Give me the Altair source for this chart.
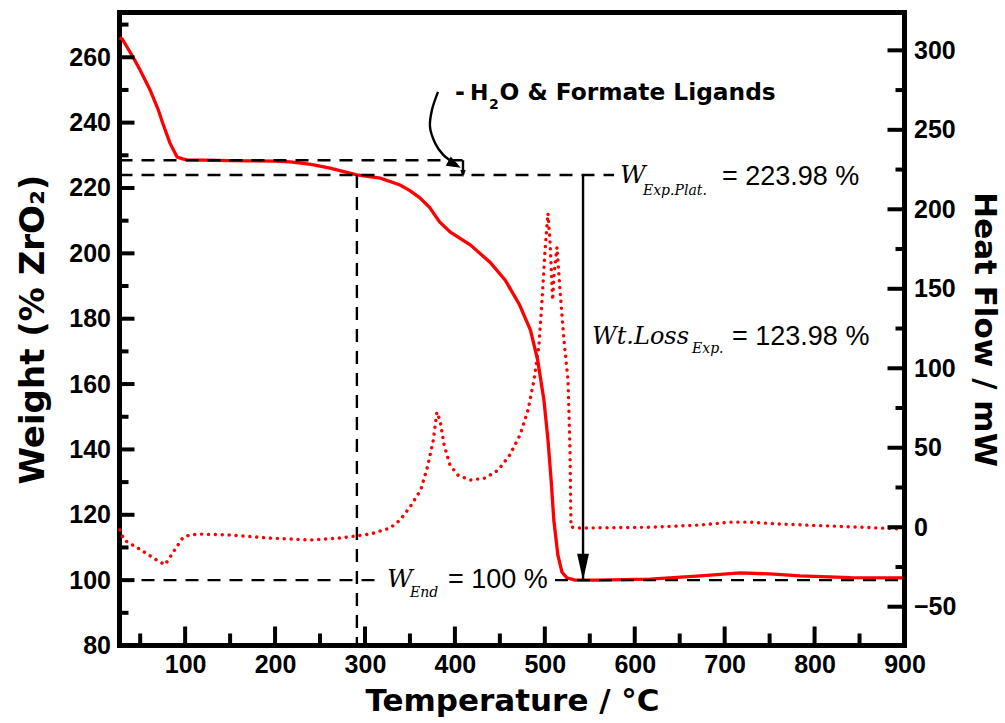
import altair as alt
import pandas as pd

# ---- TGA weight curve (left axis, % ZrO2) ----
temp_w = [27, 30, 42, 50, 61, 70, 75, 83, 91, 97,
          102, 120, 150, 172, 200, 217, 240, 261, 291, 317,
          339, 350, 361, 372, 383, 395, 417, 439, 456, 472,
          484, 492, 499, 503.5, 507, 510, 514.5, 519, 524.5, 533.5,
          560, 617, 673, 717, 750, 784, 840, 898]
weight = [266, 265.6, 260.1, 256, 250, 244, 239.9, 233.8, 229.5, 228.9,
          228.6, 228.5, 228.4, 228.3, 228.2, 228, 227.2, 226.1, 224, 223,
          220.9, 219.2, 217, 214, 209.6, 206.5, 202.6, 197.3, 191.8, 184.2,
          176.5, 167.4, 155.1, 142.9, 130.7, 118.4, 107.7, 102.5, 100.7, 100,
          100, 100.3, 101.3, 102.2, 101.9, 101.3, 100.8, 100.7]

# ---- DSC heat flow curve (right axis, mW) ----
temp_hf = [27.5, 32, 50, 66.5, 77.6, 83, 91, 97.6, 105, 116.5,
           150, 194, 239, 272, 306, 328, 339, 350, 362, 370,
           376, 380, 383.5, 388, 394.6, 403.4, 416.8, 433.5, 448, 461,
           472.4, 481.3, 488, 493.5, 496.9, 500.2, 503.5, 505.7, 508.7, 510.2,
           513.5, 516.9, 521.3, 525.8, 528, 529.1, 539, 617, 672.6, 706,
           728, 761.6, 817, 873, 898]
heat_flow = [-1.7, -8, -14, -20, -23.6, -19, -12, -6.5, -4.9, -4.3,
             -4.9, -6.8, -8, -6.8, -4.3, -0.5, 4.5, 12.7, 23.4, 39,
             54.8, 72.4, 67, 51.7, 39, 32.8, 29.6, 30.9, 35.9, 45.4,
             58, 73.7, 92.6, 114.6, 142.9, 174, 197.5, 180.6, 142.9, 158.6,
             176.2, 149, 117.7, 92.6, 48.6, 0.1, -0.5, 0, 1.4, 3.2,
             3.2, 2, 0.8, -0.5, -1.1]

# ---- annotation values ----
W_WATER = 228.5       # plateau after water / formate loss
W_PLAT = 223.98       # experimental plateau
W_END = 100           # final ZrO2 residue
T_PLAT = 291          # temperature where the plateau is read
T_LOSS = 542.5        # position of the weight-loss arrow
T_WATER_ARROW = 409   # end of the water-loss guide
WT_LOSS = round(W_PLAT - W_END, 2)

# curved pointer from the ligand label to the guide lines
curve_x = [381.2, 374.5, 372.3, 377.9, 386.8, 396.8, 402.5]
curve_y = [249.4, 243.9, 238.7, 233.8, 230.2, 228.0, 227.1]

# axis tick values
x_major = [100, 200, 300, 400, 500, 600, 700, 800, 900]
x_minor = [50, 150, 250, 350, 450, 550, 650, 750, 850]
yl_major = [80, 100, 120, 140, 160, 180, 200, 220, 240, 260]
yl_minor = [90, 110, 130, 150, 170, 190, 210, 230, 250, 270]
yr_major = [-50, 0, 50, 100, 150, 200, 250, 300]
yr_minor = [-25, 25, 75, 125, 175, 225, 275]

X_DOM = [27, 900]
YL_DOM = [80, 273.7]
YR_DOM = [-74.4, 323.8]

W, H = 785, 633
RED = "#ff0000"
SANS = "Liberation Sans"
SANS_W = "DejaVu Sans"
SERIF_I = "DejaVu Serif"

xs = alt.Scale(domain=X_DOM, nice=False, zero=False)
yl = alt.Scale(domain=YL_DOM, nice=False, zero=False)
yr = alt.Scale(domain=YR_DOM, nice=False, zero=False)

label_style = dict(labelFont=SANS, labelFontWeight="bold", labelFontSize=25,
                   labelColor="black", ticks=False, tickSize=0, domain=False,
                   grid=False, labelFlush=False, labelOverlap=False,
                   titleFont=SANS_W, titleFontWeight="bold", titleColor="black")

# one axis definition per scale, shared by every layer that uses it
AX_X = alt.Axis(values=x_major, labelPadding=7, title="Temperature / °C",
                titleFontSize=31, titlePadding=9, **label_style)
AX_YL = alt.Axis(values=yl_major, labelPadding=9, title="Weight (% ZrO₂)",
                 titleFontSize=34, titlePadding=18, **label_style)
AX_YR = alt.Axis(orient="right", values=yr_major, labelPadding=9,
                 title="Heat Flow / mW", titleFontSize=31, titlePadding=12,
                 **label_style)


def xq(field):
    return alt.X(field, type="quantitative", scale=xs, axis=AX_X)


def ylq(field):
    return alt.Y(field, type="quantitative", scale=yl, axis=AX_YL)


def yrq(field):
    return alt.Y(field, type="quantitative", scale=yr, axis=AX_YR)


# ---------------- left-axis group ----------------
weight_line = alt.Chart(pd.DataFrame({"T": temp_w, "W": weight})).mark_line(
    color=RED, strokeWidth=3.3
).encode(x=xq("T"), y=ylq("W"))

guides = pd.DataFrame({
    "x1": [X_DOM[0], X_DOM[0], T_PLAT, X_DOM[0], 511.3],
    "x2": [T_WATER_ARROW, 577, T_PLAT, 316.7, X_DOM[1]],
    "y1": [W_WATER, W_PLAT, W_PLAT, W_END, W_END],
    "y2": [W_WATER, W_PLAT, YL_DOM[0], W_END, W_END],
})
dashed = alt.Chart(guides).mark_rule(
    color="black", strokeWidth=2.4, strokeDash=[13, 9]
).encode(x=xq("x1"), x2="x2:Q", y=ylq("y1"), y2="y2:Q")

arrows = pd.DataFrame({
    "x": [T_LOSS, T_WATER_ARROW],
    "y1": [W_PLAT, W_WATER],
    "y2": [W_END, W_PLAT],
})
arrow_shafts = alt.Chart(arrows).mark_rule(color="black", strokeWidth=2.4).encode(
    x=xq("x"), y=ylq("y1"), y2="y2:Q"
)
# arrowheads drawn with the tip at the symbol origin
big_head = alt.Chart(pd.DataFrame({"x": [T_LOSS], "y": [W_END]})).mark_point(
    shape="M-0.45,-2L0.45,-2L0,0Z", size=700, filled=True, color="black", opacity=1
).encode(x=xq("x"), y=ylq("y"))
small_head = alt.Chart(pd.DataFrame({"x": [T_WATER_ARROW], "y": [W_PLAT]})).mark_point(
    shape="M-0.6,-1.6L0,0L0.6,-1.6", size=40, filled=False, color="black",
    strokeWidth=1.6, opacity=1
).encode(x=xq("x"), y=ylq("y"))

curve = alt.Chart(pd.DataFrame({"x": curve_x, "y": curve_y,
                                "o": list(range(len(curve_x)))})).mark_line(
    color="black", strokeWidth=2.4, interpolate="cardinal"
).encode(x=xq("x"), y=ylq("y"), order="o:Q")
curve_head = alt.Chart(pd.DataFrame({"x": [406.5], "y": [226.2]})).mark_point(
    shape="M0,0L-2,-0.75L-2,0.75Z", size=200, filled=True, color="black", opacity=1,
    angle=28
).encode(x=xq("x"), y=ylq("y"))


def text(x, y, s, dx=0, dy=0, font=SANS, size=27, weight="normal",
         style="normal", baseline="middle"):
    return alt.Chart(pd.DataFrame({"x": [x], "y": [y], "t": [s]})).mark_text(
        align="left", baseline=baseline, dx=dx, dy=dy, font=font, fontSize=size,
        fontWeight=weight, fontStyle=style, color="black"
    ).encode(x=xq("x"), y=ylq("y"), text="t:N")


texts = [
    # - H2O & Formate Ligands
    text(400.1, 249.1, "-", font=SANS_W, size=24, weight="bold"),
    text(400.1, 249.1, "H", dx=15, font=SANS_W, size=22, weight="bold"),
    text(400.1, 249.1, "2", dx=34, dy=16, font=SANS_W, size=14, weight="bold",
         baseline="alphabetic"),
    text(400.1, 249.1, "O & Formate Ligands", dx=44.5, font=SANS_W, size=23.3,
         weight="bold"),
    # W_Exp.Plat. = 223.98 %
    text(583.6, W_PLAT, "W", font=SERIF_I, size=25, style="italic"),
    text(583.6, W_PLAT, "Exp.Plat.", dx=23, dy=20, font=SERIF_I, size=14,
         style="italic", baseline="alphabetic"),
    text(583.6, W_PLAT, f"= {W_PLAT:.2f} %", dx=102, dy=2),
    # Wt.Loss_Exp. = 123.98 %
    text(552.5, 174.4, "Wt.Loss", font=SERIF_I, size=24, style="italic"),
    text(552.5, 174.4, "Exp.", dx=100, dy=16, font=SERIF_I, size=14,
         style="italic", baseline="alphabetic"),
    text(552.5, 174.4, f"= {WT_LOSS:.2f} %", dx=140),
    # W_End = 100 %
    text(324.5, W_END, "W", font=SERIF_I, size=25, style="italic", dy=-1),
    text(324.5, W_END, "End", dx=23, dy=17, font=SERIF_I, size=14,
         style="italic", baseline="alphabetic"),
    text(324.5, W_END, f"= {W_END} %", dx=61),
]

# inward tick marks
tick_w = 4
left_major = alt.Chart(pd.DataFrame({"v": yl_major})).mark_rule(
    color="black", strokeWidth=tick_w).encode(y=ylq("v"), x=alt.value(0), x2=alt.value(15))
left_minor = alt.Chart(pd.DataFrame({"v": yl_minor})).mark_rule(
    color="black", strokeWidth=tick_w).encode(y=ylq("v"), x=alt.value(0), x2=alt.value(9))
bottom_major = alt.Chart(pd.DataFrame({"v": x_major})).mark_rule(
    color="black", strokeWidth=tick_w).encode(x=xq("v"), y=alt.value(H), y2=alt.value(H - 19))
bottom_minor = alt.Chart(pd.DataFrame({"v": x_minor})).mark_rule(
    color="black", strokeWidth=tick_w).encode(x=xq("v"), y=alt.value(H), y2=alt.value(H - 12))

left_group = alt.layer(
    weight_line, left_major, left_minor, bottom_major, bottom_minor,
    dashed, arrow_shafts, big_head, small_head, curve, curve_head,
    *texts
)

# ---------------- right-axis group ----------------
hf_line = alt.Chart(pd.DataFrame({"T": temp_hf, "HF": heat_flow})).mark_line(
    color=RED, strokeWidth=3.4, strokeDash=[0.1, 6.8], strokeCap="round"
).encode(x=xq("T"), y=yrq("HF"))
right_major = alt.Chart(pd.DataFrame({"v": yr_major})).mark_rule(
    color="black", strokeWidth=tick_w).encode(y=yrq("v"), x=alt.value(W), x2=alt.value(W - 17))
right_minor = alt.Chart(pd.DataFrame({"v": yr_minor})).mark_rule(
    color="black", strokeWidth=tick_w).encode(y=yrq("v"), x=alt.value(W), x2=alt.value(W - 9))

right_group = alt.layer(hf_line, right_major, right_minor)

chart = alt.layer(left_group, right_group).resolve_scale(y="independent").properties(
    width=W, height=H,
    padding={"left": 119.5, "top": 12.5, "right": 100.5, "bottom": 77.5},
    autosize=alt.AutoSizeParams(type="none"),
    background="white",
).configure_view(stroke="black", strokeWidth=5)

chart.save("out.html", embed_options={"renderer": "svg", "actions": False})
